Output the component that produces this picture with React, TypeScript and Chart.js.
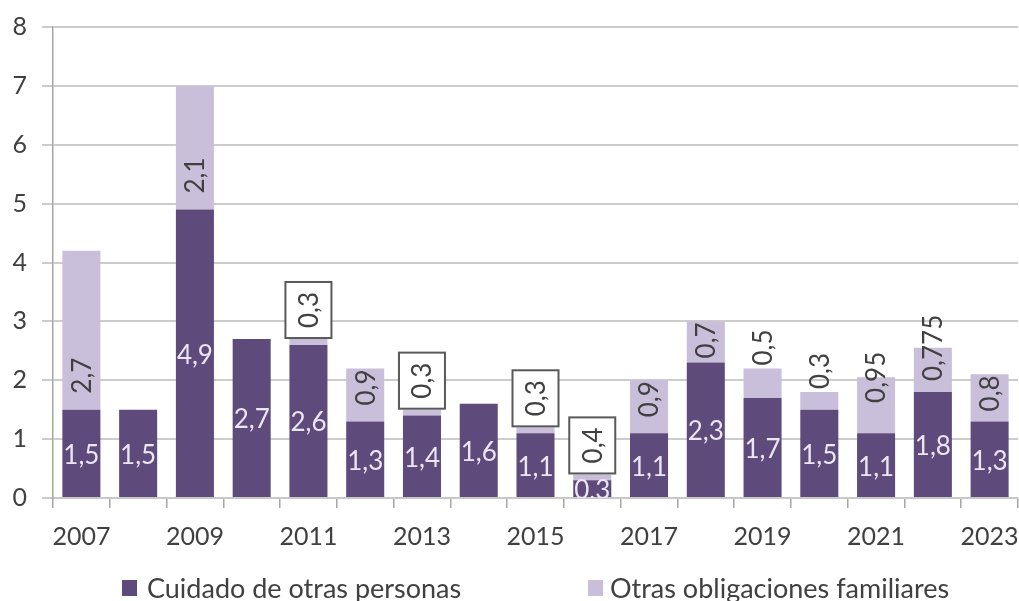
import React, { useEffect, useRef } from "react";
import { Chart, registerables } from "chart.js";

Chart.register(...registerables);

const years = ["2007","2008","2009","2010","2011","2012","2013","2014","2015","2016","2017","2018","2019","2020","2021","2022","2023"];
const cuidado = [1.5, 1.5, 4.9, 2.7, 2.6, 1.3, 1.4, 1.6, 1.1, 0.3, 1.1, 2.3, 1.7, 1.5, 1.1, 1.8, 1.3];
const otras = [2.7, 0, 2.1, 0, 0.1, 0.9, 0.1, 0, 0.1, 0.1, 0.9, 0.7, 0.5, 0.3, 0.95, 0.75, 0.8];
const cuidadoLabels = ["1,5","1,5","4,9","2,7","2,6","1,3","1,4","1,6","1,1","0,3","1,1","2,3","1,7","1,5","1,1","1,8","1,3"];
const otrasLabels = ["2,7","","2,1","","0,3","0,9","0,3","","0,3","0,4","0,9","0,7","0,5","0,3","0,95","0,775","0,8"];
const otrasLabelPlacement = ["base","","base","","box","top","box","","box","box","top","top","above","above","cross","cross","top"];
const seriesNames = ["Cuidado de otras personas", "Otras obligaciones familiares"];

const DARK = "#5e4a7b";
const LIGHT = "#c9bfdb";
const FONT = "Lato";
const TEXT = "#404040";

const labelPlugin = {
  id: "barLabels",
  afterDatasetsDraw(chart: any) {
    const ctx = chart.ctx;
    const area = chart.chartArea;
    const m0 = chart.getDatasetMeta(0);
    const m1 = chart.getDatasetMeta(1);
    ctx.save();
    ctx.font = `26px ${FONT}`;
    ctx.textAlign = "center";
    ctx.textBaseline = "middle";
    // dark labels
    ctx.save();
    ctx.beginPath();
    ctx.rect(area.left, area.top, area.right - area.left, area.bottom - area.top);
    ctx.clip();
    ctx.fillStyle = "#ece6f4";
    m0.data.forEach((bar: any, i: number) => {
      const p = bar.getProps(["x", "y", "base"], true);
      ctx.fillText(cuidadoLabels[i], p.x, (p.y + p.base) / 2 + 2);
    });
    ctx.restore();
    // light labels
    m1.data.forEach((bar: any, i: number) => {
      const label = otrasLabels[i];
      if (!label) return;
      const p = bar.getProps(["x", "y", "base"], true);
      const w = ctx.measureText(label).width;
      const kind = otrasLabelPlacement[i];
      let cy = (p.y + p.base) / 2;
      if (kind === "base") cy = p.base - w / 2 - 16;
      else if (kind === "top") cy = p.y + w / 2 + 1;
      else if (kind === "above") cy = p.y - w / 2 - 3;
      else if (kind === "cross") cy = p.y;
      else if (kind === "box") {
        const bw = 46;
        const bh = w + 20;
        const bottom = p.y - 1;
        cy = bottom - bh / 2;
        ctx.fillStyle = "#ffffff";
        ctx.fillRect(p.x - bw / 2, bottom - bh, bw, bh);
        ctx.strokeStyle = "#595959";
        ctx.lineWidth = 2;
        ctx.strokeRect(p.x - bw / 2, bottom - bh, bw, bh);
      }
      ctx.save();
      ctx.translate(p.x + 1, cy);
      ctx.rotate(-Math.PI / 2);
      ctx.fillStyle = TEXT;
      ctx.fillText(label, 0, 0);
      ctx.restore();
    });
    ctx.restore();
  },
};

export default function App() {
  const ref = useRef<HTMLCanvasElement | null>(null);
  useEffect(() => {
    if (!ref.current) return;
    const chart = new Chart(ref.current, {
      type: "bar",
      data: {
        labels: years,
        datasets: [
          { label: seriesNames[0], data: cuidado, backgroundColor: DARK, borderWidth: 0 },
          { label: seriesNames[1], data: otras, backgroundColor: LIGHT, borderWidth: 0 },
        ],
      },
      options: {
        responsive: false,
        animation: false,
        layout: { padding: { top: 27, right: 1, left: 0, bottom: 0 } },
        datasets: { bar: { barPercentage: 0.67, categoryPercentage: 1 } },
        plugins: { legend: { display: false }, tooltip: { enabled: false } },
        scales: {
          x: {
            stacked: true,
            afterFit: (s: any) => { s.height = 103; s.paddingLeft = 0; s.paddingRight = 0; },
            grid: { offset: true, drawOnChartArea: false, drawTicks: true, tickLength: 10, color: "#a6a6a6", lineWidth: 1.5 },
            border: { display: true, color: "#c8c8c8", width: 2 },
            ticks: {
              autoSkip: false,
              maxRotation: 0,
              padding: 14,
              color: TEXT,
              font: { family: FONT, size: 25 },
              callback: (_v: any, i: number) => (i % 2 === 0 ? years[i] : ""),
            },
          },
          y: {
            stacked: true,
            min: 0,
            max: 8,
            afterFit: (s: any) => { s.width = 53; s.paddingTop = 0; s.paddingBottom = 0; },
            grid: { color: "#cccccc", lineWidth: 2, drawTicks: true, tickLength: 11 },
            border: { display: true, color: "#a6a6a6", width: 1.5 },
            ticks: { stepSize: 1, padding: 15, color: TEXT, font: { family: FONT, size: 25 } },
          },
        },
      },
      plugins: [labelPlugin],
    });
    return () => chart.destroy();
  }, []);

  const legendItem = (left: number, textLeft: number, color: string, text: string) => (
    <>
      <div style={{ position: "absolute", left, top: 580, width: 15, height: 16, background: color }} />
      <div style={{ position: "absolute", left: textLeft, top: 571, height: 34, lineHeight: "34px", fontFamily: FONT, fontSize: 27, color: TEXT, whiteSpace: "nowrap" }}>{text}</div>
    </>
  );

  return (
    <div style={{ position: "absolute", left: 0, top: 0, width: 1019, height: 601, background: "#fff", overflow: "hidden" }}>
      <canvas ref={ref} width={1019} height={601} style={{ position: "absolute", left: 0, top: 0 }} />
      {legendItem(122, 147, DARK, seriesNames[0])}
      {legendItem(588, 610, LIGHT, seriesNames[1])}
    </div>
  );
}
